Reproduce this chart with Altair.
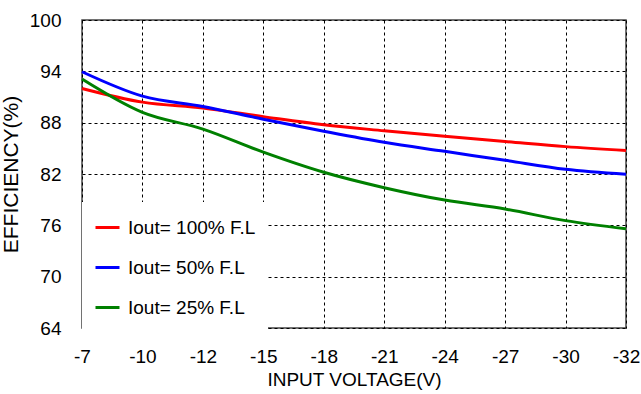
import altair as alt
import pandas as pd

x_labels = ["-7", "-10", "-12", "-15", "-18", "-21", "-24", "-27", "-30", "-32"]
series_names = ["Iout= 100% F.L", "Iout= 50% F.L", "Iout= 25% F.L"]
eff_100 = [92.0, 90.4, 89.7, 88.7, 87.75, 87.05, 86.4, 85.8, 85.2, 84.75]
eff_50 = [93.95, 91.1, 89.9, 88.4, 87.0, 85.7, 84.65, 83.6, 82.55, 81.97]
eff_25 = [93.1, 89.2, 87.25, 84.55, 82.2, 80.4, 78.95, 77.9, 76.55, 75.6]
y_ticks = [64, 70, 76, 82, 88, 94, 100]
colors = ["#ff0000", "#0000ff", "#008000"]

rows = []
for name, vals in zip(series_names, [eff_100, eff_50, eff_25]):
    for i, v in enumerate(vals):
        rows.append({"pos": i, "eff": v, "series": name})
df = pd.DataFrame(rows)

label_expr = "[" + ",".join("'%s'" % l for l in x_labels) + "][datum.value]"

font = "Liberation Sans"

chart = alt.Chart(df).mark_line(strokeWidth=3, interpolate="monotone").encode(
    x=alt.X("pos:Q", scale=alt.Scale(domain=[0, len(x_labels) - 1], nice=False),
            axis=alt.Axis(values=list(range(len(x_labels))), labelExpr=label_expr,
                          title="INPUT VOLTAGE(V)", grid=True, ticks=False,
                          domain=False, labelPadding=19, titlePadding=4,
                          labelFlush=False, titleFontSize=19)),
    y=alt.Y("eff:Q", scale=alt.Scale(domain=[64, 100], nice=False, zero=False),
            axis=alt.Axis(values=y_ticks, title="EFFICIENCY(%)", grid=True,
                          ticks=False, domain=False, labelPadding=21,
                          titlePadding=8, titleFontSize=21)),
    color=alt.Color("series:N", sort=series_names,
                    scale=alt.Scale(domain=series_names, range=colors),
                    legend=alt.Legend(title=None, orient="none", legendX=0, legendY=182,
                                      fillColor="white", padding=12,
                                      symbolType="stroke", symbolSize=576,
                                      symbolStrokeWidth=3, labelFontSize=19,
                                      labelFont=font, labelColor="black",
                                      labelOffset=7, rowPadding=16)),
).properties(
    width=544, height=308,
    autosize=alt.AutoSizeParams(type="none"),
    padding={"left": 82, "top": 20, "right": 15, "bottom": 66},
).configure_axis(
    gridColor="black", gridDash=[3, 3], gridWidth=1, gridOpacity=1,
    labelFont=font, labelFontSize=19, labelColor="black",
    titleFont=font, titleFontWeight="normal", titleColor="black",
).configure_view(
    stroke="#444", strokeWidth=1.5
)

chart.save("out.html", embed_options={"renderer": "svg", "actions": False})
